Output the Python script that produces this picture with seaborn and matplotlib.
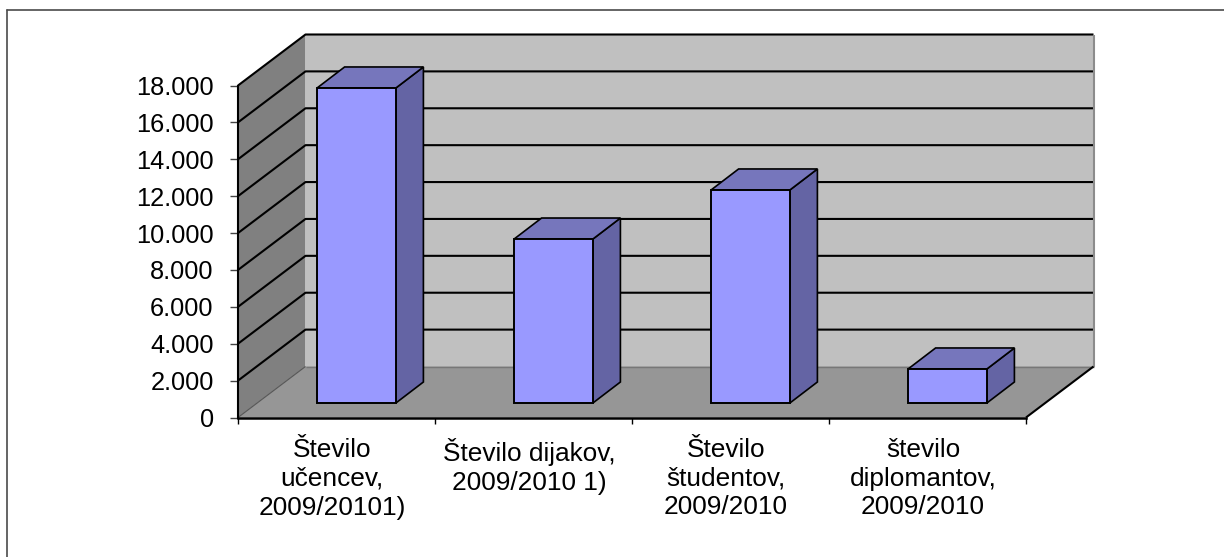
import numpy as np
import seaborn as sns
import matplotlib.pyplot as plt
from matplotlib.lines import Line2D
from matplotlib.patches import Polygon
from matplotlib.ticker import FuncFormatter
from matplotlib.transforms import Affine2D

categories = ["Število\nučencev,\n2009/20101)", "Število dijakov,\n2009/2010 1)",
              "Število\nštudentov,\n2009/2010", "število\ndiplomantov,\n2009/2010"]
values = [17080, 8890, 11550, 1845]
yticks = [0, 2000, 4000, 6000, 8000, 10000, 12000, 14000, 16000, 18000]

W, H = 1224, 557
WALL_DX, WALL_DY = 67.5, 51
BAR_DX, BAR_DY = 20, 14.5
BAR_DEPTH_X, BAR_DEPTH_Y = 27.5, 21

sns.set_style("white")
plt.rcParams["font.family"] = ["Liberation Sans", "DejaVu Sans"]

fig = plt.figure(figsize=(W / 100, H / 100), dpi=100)
ax = fig.add_axes([238 / W, (H - 417.5) / H, 788 / W, 332 / H])

sns.barplot(x=list(range(4)), y=values, color="#9999FF", saturation=1, width=0.4,
            edgecolor="black", linewidth=1.4, ax=ax, zorder=5, native_scale=False)
bars = list(ax.patches)
ax.set_xlim(-0.5, 3.5)
ax.set_ylim(0, 18000)


def px(x, y, dx=0, dy=0):
    p = ax.transData.transform((x, y))
    return p[0] + dx, p[1] + dy


def poly(points, color, edge="none", lw=0, z=1):
    ax.add_patch(Polygon(points, closed=True, facecolor=color, edgecolor=edge, linewidth=lw,
                         transform=None, clip_on=False, zorder=z))


def line(points, color="black", lw=1.5, z=2):
    xs, ys = zip(*points)
    ax.add_line(Line2D(xs, ys, color=color, linewidth=lw, transform=None, clip_on=False,
                       zorder=z, solid_capstyle="butt"))


# walls and floor
x0, x1 = -0.5, 3.5
top = yticks[-1]
poly([px(x0, 0, WALL_DX, WALL_DY), px(x1, 0, WALL_DX, WALL_DY),
      px(x1, top, WALL_DX, WALL_DY), px(x0, top, WALL_DX, WALL_DY)], "#C0C0C0")
poly([px(x0, 0), px(x0, 0, WALL_DX, WALL_DY), px(x0, top, WALL_DX, WALL_DY), px(x0, top)], "#808080")
poly([px(x0, 0), px(x1, 0), px(x1, 0, WALL_DX, WALL_DY), px(x0, 0, WALL_DX, WALL_DY)], "#969696")

for v in yticks[1:]:
    line([px(x0, v), px(x0, v, WALL_DX, WALL_DY), px(x1, v, WALL_DX, WALL_DY)])
line([px(x0, 0), px(x0, 0, WALL_DX, WALL_DY)], color="#555555", lw=0.8)
line([px(x0, 0, WALL_DX, WALL_DY), px(x1, 0, WALL_DX, WALL_DY)], color="#777777", lw=1)
line([px(x1, 0, WALL_DX, WALL_DY), px(x1, top, WALL_DX, WALL_DY)], color="#8C8C8C", lw=1.5)
line([px(x1, 0), px(x1, 0, WALL_DX, WALL_DY)], lw=1.5, z=3)

# bars: the front faces come from seaborn, moved onto the floor, the rest is the depth
shift = ax.transData + Affine2D().translate(BAR_DX, BAR_DY)
for bar in bars:
    bar.set_transform(shift)
    bar.set_clip_on(False)
    bx0, bx1 = bar.get_x(), bar.get_x() + bar.get_width()
    h = bar.get_height()
    a = px(bx1, 0, BAR_DX, BAR_DY)
    b = px(bx1, h, BAR_DX, BAR_DY)
    c = px(bx0, h, BAR_DX, BAR_DY)
    dep = (BAR_DEPTH_X, BAR_DEPTH_Y)
    poly([a, (a[0] + dep[0], a[1] + dep[1]), (b[0] + dep[0], b[1] + dep[1]), b],
         "#6464A4", "black", 1.2, 4)
    poly([c, b, (b[0] + dep[0], b[1] + dep[1]), (c[0] + dep[0], c[1] + dep[1])],
         "#7676BC", "black", 1.2, 4)

sns.despine(ax=ax, top=True, right=True)
ax.spines["left"].set(color="black", linewidth=1.5, zorder=6)
ax.spines["bottom"].set(color="black", linewidth=1.8, zorder=6)

ax.set_yticks(yticks)
ax.yaxis.set_major_formatter(FuncFormatter(lambda v, pos: f"{v:,.0f}".replace(",", ".")))
ax.tick_params(axis="y", left=True, length=5.8, width=1, color="#444444", labelsize=18.3, pad=11.7, labelcolor="black")
ax.set_xticks(np.arange(-0.5, 4, 1))
ax.set_xticklabels([])
ax.tick_params(axis="x", bottom=True, length=4.5, width=1, color="black")
ax.set_xlabel("")
ax.set_ylabel("")

for i, label in enumerate(categories):
    x, y = px(i, 0, -4.5, -20.5)
    ax.text(x, y, label, transform=None, ha="center", va="top", fontsize=18.9, linespacing=1.25, color="black")

# chart frame, cut off on the right and at the bottom
fig.add_artist(Line2D([6.5 / W, 1], [(H - 10.3) / H] * 2, color="#4A4A4A", linewidth=1.2))
fig.add_artist(Line2D([6.5 / W] * 2, [0, (H - 10.3) / H], color="#4A4A4A", linewidth=1.2))

fig.savefig("out.png", dpi=100)
